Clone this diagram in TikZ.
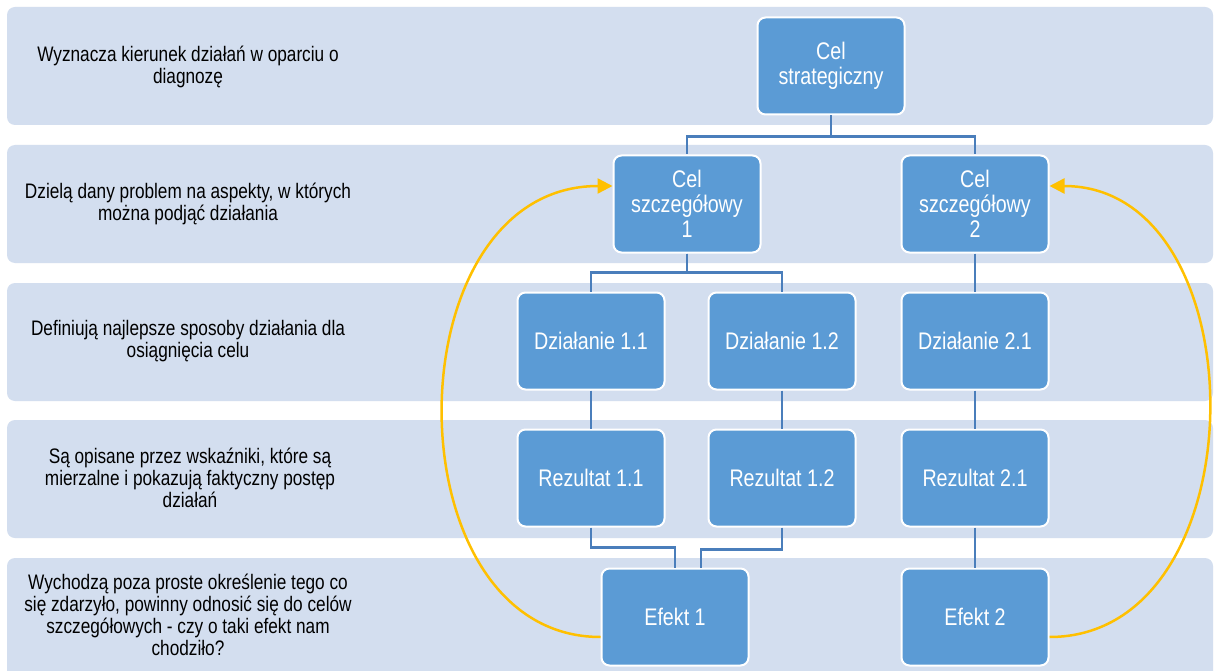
\documentclass[tikz,border=0pt]{standalone}
\usepackage{fontspec}
\setmainfont{Liberation Sans}[FakeStretch=0.82]
\usetikzlibrary{arrows.meta}
\definecolor{bandblue}{HTML}{D3DEEF}
\definecolor{boxblue}{HTML}{5B9BD5}
\definecolor{lineblue}{HTML}{4A7EBB}
\definecolor{loopyellow}{HTML}{FFC000}
\tikzset{
  band/.style={fill=bandblue, rounded corners=8pt},
  opis/.style={align=center, text=black, font=\fontsize{21}{22}\selectfont},
  cel/.style={fill=boxblue, draw=white, line width=2pt, rounded corners=8pt,
    minimum width=147pt, minimum height=97pt, text=white, align=center,
    font=\fontsize{24}{25}\selectfont},
  conn/.style={draw=lineblue, line width=2.5pt},
  loopy/.style={draw=loopyellow, line width=2.5pt, -{Triangle[length=15pt,width=15pt]}}
}
\begin{document}
\begin{tikzpicture}[x=1pt, y=-1pt]
  \clip (0,0) rectangle (1217,671);
  \fill[white] (0,0) rectangle (1217,671);
  % pasy tla
  \fill[band] (7,7) rectangle (1213,125);
  \fill[band] (7,145) rectangle (1213,263);
  \fill[band] (7,283) rectangle (1213,401);
  \fill[band] (7,420) rectangle (1213,538);
  \fill[band] (7,558) rectangle (1213,690);
  % opisy
  \node[opis] (opis1) at (188,67) {Wyznacza kierunek działań w oparciu o\\diagnozę};
  \node[opis] (opis2) at (188,204) {Dzielą dany problem na aspekty, w których\\można podjąć działania};
  \node[opis] (opis3) at (188,341) {Definiują najlepsze sposoby działania dla\\osiągnięcia celu};
  \node[opis] (opis4) at (190,478) {Są opisane przez wskaźniki, które są\\mierzalne i pokazują faktyczny postęp\\działań};
  \node[opis] (opis5) at (188,615) {Wychodzą poza proste określenie tego co\\się zdarzyło, powinny odnosić się do celów\\szczegółowych - czy o taki efekt nam\\chodziło?};
  % bloki
  \node[cel] (strat) at (831,66) {Cel\\strategiczny};
  \node[cel] (sz1) at (687,204) {Cel\\szczegółowy\\1};
  \node[cel] (sz2) at (975,204) {Cel\\szczegółowy\\2};
  \node[cel] (dz11) at (591,341) {Działanie 1.1};
  \node[cel] (dz12) at (782,341) {Działanie 1.2};
  \node[cel] (dz21) at (975,341) {Działanie 2.1};
  \node[cel] (rez11) at (591,478) {Rezultat 1.1};
  \node[cel] (rez12) at (782,478) {Rezultat 1.2};
  \node[cel] (rez21) at (975,478) {Rezultat 2.1};
  \node[cel] (ef1) at (675,617) {Efekt 1};
  \node[cel] (ef2) at (975,617) {Efekt 2};
  % polaczenia
  \draw[conn] (strat.south) -- ++(0,21) -| (sz1.north);
  \draw[conn] (strat.south) -- ++(0,21) -| (sz2.north);
  \draw[conn] (sz1.south) -- ++(0,19) -| (dz11.north);
  \draw[conn] (sz1.south) -- ++(0,19) -| (dz12.north);
  \draw[conn] (sz2.south) -- (dz21.north);
  \draw[conn] (dz11.south) -- (rez11.north);
  \draw[conn] (dz12.south) -- (rez12.north);
  \draw[conn] (dz21.south) -- (rez21.north);
  \draw[conn] (rez21.south) -- (ef2.north);
  \draw[conn] (rez11.south) -- ++(0,20) -| (ef1.north);
  \draw[conn] (rez12.south) -- ++(0,22) -| ([xshift=26pt]ef1.north);
  % petle
  \draw[loopy] ([yshift=-20pt]ef1.west) .. controls +(-212,0) and +(-223,0) .. ([yshift=18pt]sz1.west);
  \draw[loopy] ([yshift=-20pt]ef2.east) .. controls +(212,0) and +(212,0) .. ([yshift=18pt]sz2.east);
\end{tikzpicture}
\end{document}
